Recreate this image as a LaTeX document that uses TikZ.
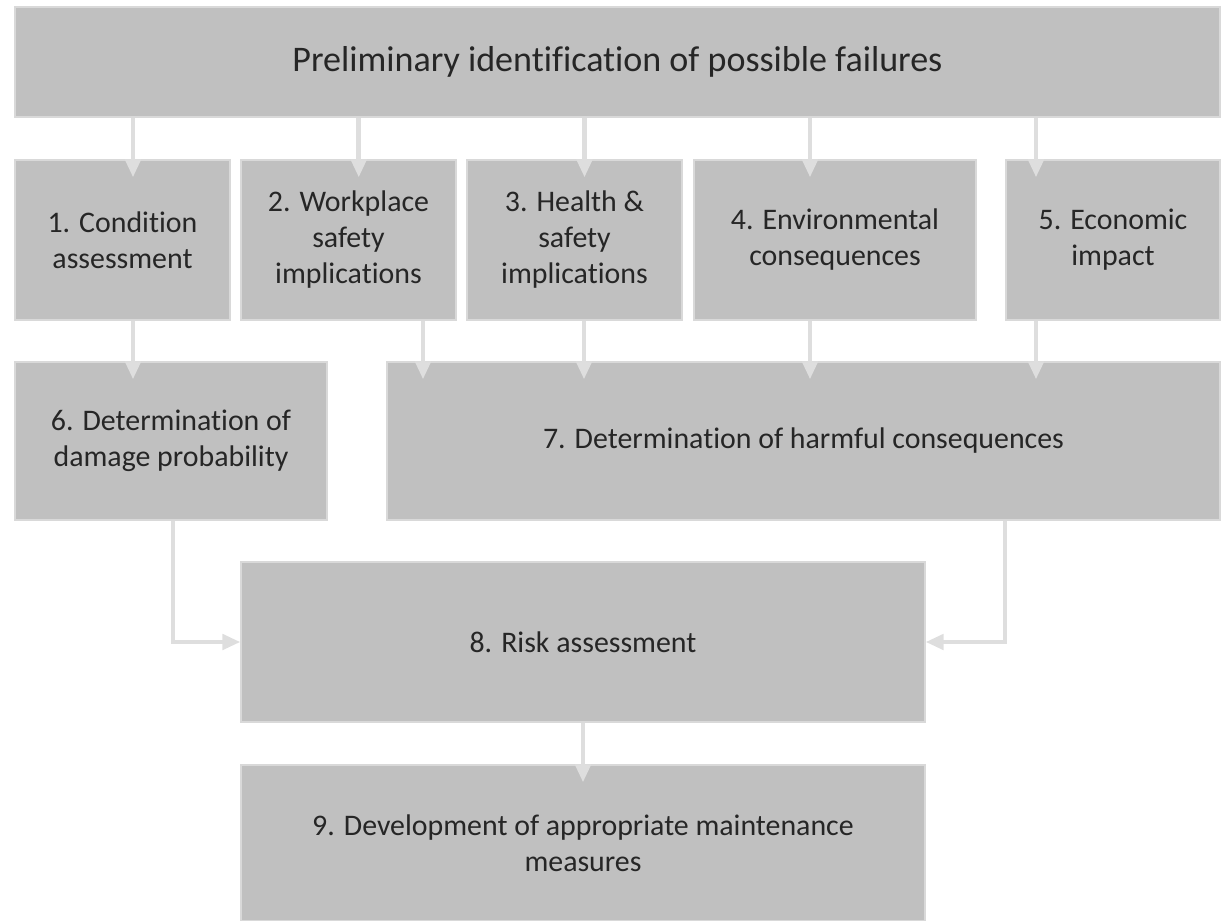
\documentclass[tikz,border=0pt]{standalone}
\usepackage{fontspec}
\setmainfont[Ligatures=NoCommon]{Carlito}
\usetikzlibrary{arrows.meta,calc}

\definecolor{boxgray}{HTML}{C0C0C0}
\definecolor{boxline}{HTML}{D9D9D9}
\definecolor{arrowgray}{HTML}{DEDEDE}
\definecolor{textgray}{HTML}{262626}

\tikzset{
  stage/.style={rectangle, fill=boxgray, draw=boxline, line width=0.6pt,
    text=textgray, align=center, inner sep=0pt,
    font=\fontsize{17}{20.5}\selectfont, minimum height=3.2cm},
  flow/.style={draw=arrowgray, line width=2.8pt,
    -{Triangle[width=3mm,length=3.6mm]}}
}

\begin{document}
\begin{tikzpicture}

\useasboundingbox (0,0) rectangle (24.54,-18.42);

%% top box
\node[stage, minimum width=24.1cm, minimum height=2.2cm,
  font=\fontsize{20.5}{24}\selectfont] (top) at (12.35,-1.24) {\raisebox{-1.5pt}{Preliminary identification of possible failures}};

%% second row
\node[stage, minimum width=4.3cm] (b1) at (2.45,-4.8) {1. Condition\\assessment};
\node[stage, minimum width=4.3cm] (b2) at (6.97,-4.8) {2. Workplace\\safety\\implications};
\node[stage, minimum width=4.3cm] (b3) at (11.49,-4.8) {3. Health \&\\safety\\implications};
\node[stage, minimum width=5.64cm] (b4) at (16.7,-4.8) {4. Environmental\\consequences};
\node[stage, minimum width=4.28cm] (b5) at (22.26,-4.8) {5. Economic\\impact};

%% third row
\node[stage, minimum width=6.24cm, minimum height=3.16cm] (b6) at (3.42,-8.82) {6. Determination of\\damage probability};
\node[stage, minimum width=16.66cm, minimum height=3.16cm] (b7) at (16.07,-8.82) {7. Determination of harmful consequences};

%% bottom
\node[stage, minimum width=13.68cm] (b8) at (11.66,-12.84) {8. Risk assessment};
\node[stage, minimum width=13.68cm, minimum height=3.12cm] (b9) at (11.66,-16.86) {9. Development of appropriate maintenance\\measures};

%% arrows down from the top box
\foreach \x/\b in {2.66/b1, 7.175/b2, 11.69/b3, 16.2/b4, 20.72/b5}
  \draw[flow] (\x,0 |- top.south) -- ($(\x,0 |- \b.north)+(0,-0.36)$);

%% arrows into row three
\draw[flow] (2.66,0 |- b1.south) -- ($(2.66,0 |- b6.north)+(0,-0.36)$);
\foreach \x/\b in {8.46/b2, 11.68/b3, 16.2/b4, 20.72/b5}
  \draw[flow] (\x,0 |- \b.south) -- ($(\x,0 |- b7.north)+(0,-0.36)$);

%% into risk assessment
\coordinate (l6) at (3.46,0 |- b6.south);
\coordinate (l7) at (20.1,0 |- b7.south);
\draw[flow] (l6) |- (b8.west);
\draw[flow] (l7) |- (b8.east);

\draw[flow] (b8.south) -- ($(b9.north)+(0,-0.36)$);

\end{tikzpicture}
\end{document}
